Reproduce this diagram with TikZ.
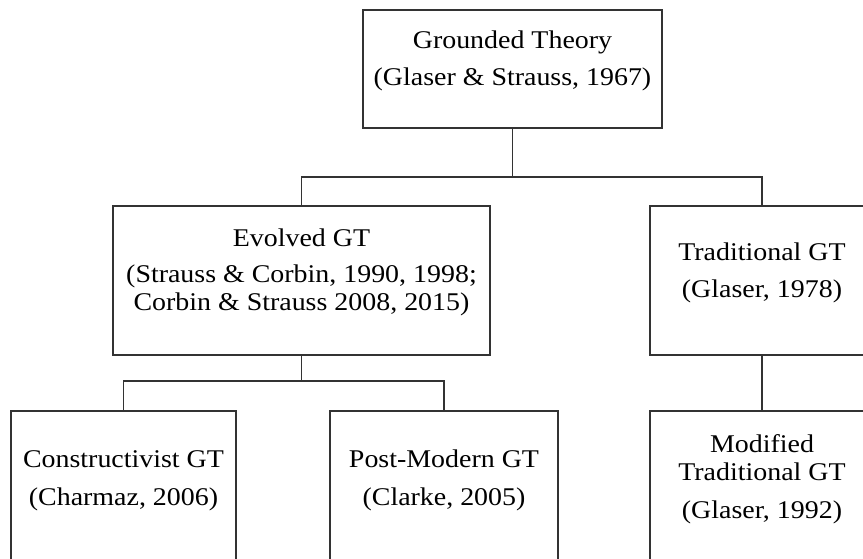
\documentclass[tikz,border=0pt]{standalone}
\usepackage{fontspec}
\setmainfont[FakeStretch=1.095]{Liberation Serif}
\begin{document}
\begin{tikzpicture}[x=1pt,y=-1pt,
  box/.style={draw=black!80, line width=1.6pt, rectangle, inner sep=0pt},
  conn/.style={draw=black!80, line width=1.6pt},
  txt/.style={anchor=base, inner sep=0pt, font=\fontsize{25.5}{27.5}\selectfont, text=black}]
\clip (0,0) rectangle (863,559);
\fill[white] (0,0) rectangle (863,559);
% boxes
\node[box, minimum width=299pt, minimum height=118pt] (top) at (512.5,69) {};
\node[box, minimum width=377pt, minimum height=149pt] (evo) at (301.5,280.5) {};
\node[box, minimum width=224pt, minimum height=149pt] (trad) at (762,280.5) {};
\node[box, minimum width=225pt, minimum height=149pt] (con) at (123.5,485.5) {};
\node[box, minimum width=228pt, minimum height=149pt] (pm) at (444,485.5) {};
\node[box, minimum width=224pt, minimum height=149pt] (mod) at (762,485.5) {};
% bar coordinates
\coordinate (bar1) at (512.5,177);
\coordinate (bar2) at (301.5,381);
% connectors
\draw[conn] (top.south) -- (bar1);
\draw[conn] (evo.north) -- (evo.north |- bar1) -- (trad.north |- bar1) -- (trad.north);
\draw[conn] (evo.south) -- (bar2);
\draw[conn] (con.north) -- (con.north |- bar2) -- (pm.north |- bar2) -- (pm.north);
\draw[conn] (trad.south) -- (mod.north);
% texts
\node[txt] (t1a) at (512.5,49) {Grounded Theory};
\node[txt] (t1b) at (512.5,86) {(Glaser \& Strauss, 1967)};
\node[txt] (t2a) at (301.5,247) {Evolved GT};
\node[txt] (t2b) at (301.5,283) {(Strauss \& Corbin, 1990, 1998;};
\node[txt] (t2c) at (301.5,310) {Corbin \& Strauss 2008, 2015)};
\node[txt] (t3a) at (762,260) {Traditional GT};
\node[txt] (t3b) at (762,297) {(Glaser, 1978)};
\node[txt] (t4a) at (123.5,467) {Constructivist GT};
\node[txt] (t4b) at (123.5,505) {(Charmaz, 2006)};
\node[txt] (t5a) at (444,467) {Post-Modern GT};
\node[txt] (t5b) at (444,505) {(Clarke, 2005)};
\node[txt] (t6a) at (762,452) {Modified};
\node[txt] (t6b) at (762,480) {Traditional GT};
\node[txt] (t6c) at (762,518) {(Glaser, 1992)};
\end{tikzpicture}
\end{document}
